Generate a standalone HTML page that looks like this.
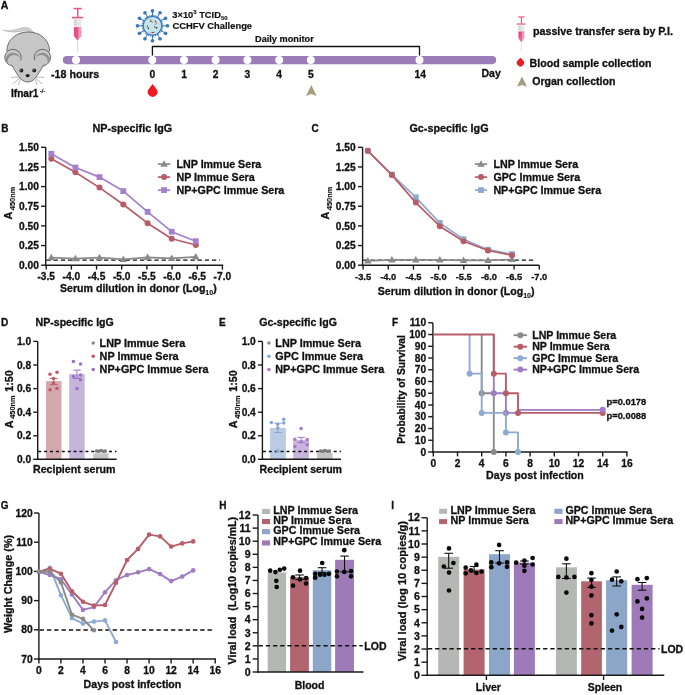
<!DOCTYPE html>
<html><head><meta charset="utf-8"><title>Figure</title>
<style>
html,body{margin:0;padding:0;background:#fff;}
body{width:685px;height:695px;overflow:hidden;}
svg{display:block;font-family:"Liberation Sans", sans-serif;will-change:transform;}
text{stroke:#111;stroke-width:0.3px;}
.s{stroke-width:0.12px;}
.t9{stroke-width:0.18px;}
</style></head>
<body>
<svg width="685" height="695" viewBox="0 0 685 695">
<rect width="685" height="695" fill="#ffffff"/>
<text x="0.8" y="8.5" font-size="10.5" text-anchor="start" fill="#111" font-weight="bold" >A</text>
<path d="M2.6,30.3 Q11,31.8 19,28.6 Q25,26.2 29.5,28.2 L34.5,32.8 L30.5,33.2 Q26.5,29.6 22,31.2 Q13,33.6 2.6,30.3 Z" fill="#d0d0d0" stroke="#a0a0a0" stroke-width="0.4"/>
<path d="M6.8,50 C7.5,39.5 16.5,32 28.2,32 C40,32 48.9,39.5 49.6,50 L44,66 L12,66 Z" fill="#c6c6c6" stroke="#4a4a4a" stroke-width="0.75"/>
<path d="M12.2,65.6 L21.4,59.2 L27.7,57 L34,59.2 L43.2,65.6 C40.4,70.5 37.4,76 33.9,79.6 Q27.7,84.6 21.5,79.6 C18,76 15,70.5 12.2,65.6 Z" fill="#c6c6c6"/>
<circle cx="12.95" cy="57.5" r="8.2" fill="#c6c6c6"/>
<circle cx="42.45" cy="57.5" r="8.2" fill="#c6c6c6"/>
<g fill="none" stroke="#4a4a4a" stroke-width="0.75">
<path d="M20.65,60.3 A8.2,8.2 0 1 0 12.24,65.67 C15,70.5 18,76 21.5,79.6 Q27.7,84.6 33.9,79.6 C37.4,76 40.4,70.5 43.16,65.67 A8.2,8.2 0 1 0 34.75,60.3"/>
</g>
<path d="M5.5,61.2 A7.5,7.5 0 1 1 20.4,59.3 A6.4,6.0 0 0 0 8.0,62.6 Z" fill="#8f8f8f"/>
<path d="M49.9,61.2 A7.5,7.5 0 1 0 35.0,59.3 A6.4,6.0 0 0 1 47.4,62.6 Z" fill="#8f8f8f"/>
<circle cx="21.4" cy="70.5" r="1.9" fill="#1a1a1a"/><circle cx="20.9" cy="70.1" r="0.6" fill="#ddd"/>
<circle cx="34.2" cy="70.4" r="1.9" fill="#1a1a1a"/><circle cx="33.7" cy="70.0" r="0.6" fill="#ddd"/>
<ellipse cx="27.7" cy="75.6" rx="2" ry="1.7" fill="#1a1a1a"/>
<g stroke="#7a7a7a" stroke-width="0.55" fill="none">
<path d="M19.5,77.6 Q15,76.5 11.2,77.6"/><path d="M19.8,78.6 Q16,80.5 13.2,84.2"/><path d="M20.6,79.4 Q18.8,81.8 18.3,85"/>
<path d="M35.9,77.6 Q40.4,76.5 44.2,77.6"/><path d="M35.6,78.6 Q39.4,80.5 42.2,84.2"/><path d="M34.8,79.4 Q36.6,81.8 37.1,85"/>
</g>
<text x="11" y="96.6" font-size="10.1" text-anchor="start" fill="#111" font-weight="bold" >Ifnar1</text>
<text x="40" y="93.2" font-size="5.6" text-anchor="start" fill="#111" font-weight="normal" >-/-</text>
<rect x="62.8" y="56" width="433.4" height="8.2" rx="4.1" fill="#9b7bb8"/>
<circle cx="76" cy="60.1" r="4" fill="#ffffff" />
<circle cx="152.3" cy="60.1" r="4" fill="#ffffff" />
<circle cx="184" cy="60.1" r="4" fill="#ffffff" />
<circle cx="215.6" cy="60.1" r="4" fill="#ffffff" />
<circle cx="247.4" cy="60.1" r="4" fill="#ffffff" />
<circle cx="279.2" cy="60.1" r="4" fill="#ffffff" />
<circle cx="310.8" cy="60.1" r="4" fill="#ffffff" />
<circle cx="419.5" cy="60.1" r="4" fill="#ffffff" />
<text x="51" y="77.7" font-size="10.7" text-anchor="start" fill="#111" font-weight="bold" >-18 hours</text>
<text x="152.3" y="77.7" font-size="10.3" text-anchor="middle" fill="#111" font-weight="bold" >0</text>
<text x="184" y="77.7" font-size="10.3" text-anchor="middle" fill="#111" font-weight="bold" >1</text>
<text x="215.6" y="77.7" font-size="10.3" text-anchor="middle" fill="#111" font-weight="bold" >2</text>
<text x="247.4" y="77.7" font-size="10.3" text-anchor="middle" fill="#111" font-weight="bold" >3</text>
<text x="279.2" y="77.7" font-size="10.3" text-anchor="middle" fill="#111" font-weight="bold" >4</text>
<text x="310.8" y="77.7" font-size="10.3" text-anchor="middle" fill="#111" font-weight="bold" >5</text>
<text x="420.2" y="77.7" font-size="10.3" text-anchor="middle" fill="#111" font-weight="bold" >14</text>
<text x="481.5" y="76.5" font-size="10.5" text-anchor="start" fill="#111" font-weight="bold" >Day</text>
<polyline points="152.4,55.5 152.4,46.5 419.5,46.5 419.5,55.5" fill="none" stroke="#111" stroke-width="1.3" stroke-linejoin="round" stroke-linejoin="miter"/>
<text x="255" y="41.9" font-size="9.2" text-anchor="start" fill="#111" font-weight="bold" class="t9">Daily monitor</text>
<line x1="161.5" y1="25.75" x2="167.5" y2="25.75" stroke="#3a78b9" stroke-width="1.0"/><circle cx="167.5" cy="25.75" r="1.85" fill="#3a78b9"/><line x1="160.29" y1="30.25" x2="165.49" y2="33.25" stroke="#3a78b9" stroke-width="1.0"/><circle cx="165.49" cy="33.25" r="1.85" fill="#3a78b9"/><line x1="157" y1="33.54" x2="160" y2="38.74" stroke="#3a78b9" stroke-width="1.0"/><circle cx="160" cy="38.74" r="1.85" fill="#3a78b9"/><line x1="152.5" y1="34.75" x2="152.5" y2="40.75" stroke="#3a78b9" stroke-width="1.0"/><circle cx="152.5" cy="40.75" r="1.85" fill="#3a78b9"/><line x1="148" y1="33.54" x2="145" y2="38.74" stroke="#3a78b9" stroke-width="1.0"/><circle cx="145" cy="38.74" r="1.85" fill="#3a78b9"/><line x1="144.71" y1="30.25" x2="139.51" y2="33.25" stroke="#3a78b9" stroke-width="1.0"/><circle cx="139.51" cy="33.25" r="1.85" fill="#3a78b9"/><line x1="143.5" y1="25.75" x2="137.5" y2="25.75" stroke="#3a78b9" stroke-width="1.0"/><circle cx="137.5" cy="25.75" r="1.85" fill="#3a78b9"/><line x1="144.71" y1="21.25" x2="139.51" y2="18.25" stroke="#3a78b9" stroke-width="1.0"/><circle cx="139.51" cy="18.25" r="1.85" fill="#3a78b9"/><line x1="148" y1="17.96" x2="145" y2="12.76" stroke="#3a78b9" stroke-width="1.0"/><circle cx="145" cy="12.76" r="1.85" fill="#3a78b9"/><line x1="152.5" y1="16.75" x2="152.5" y2="10.75" stroke="#3a78b9" stroke-width="1.0"/><circle cx="152.5" cy="10.75" r="1.85" fill="#3a78b9"/><line x1="157" y1="17.96" x2="160" y2="12.76" stroke="#3a78b9" stroke-width="1.0"/><circle cx="160" cy="12.76" r="1.85" fill="#3a78b9"/><line x1="160.29" y1="21.25" x2="165.49" y2="18.25" stroke="#3a78b9" stroke-width="1.0"/><circle cx="165.49" cy="18.25" r="1.85" fill="#3a78b9"/>
<circle cx="152.5" cy="25.75" r="10.3" fill="none" stroke="#3a78b9" stroke-width="1.3" stroke-dasharray="0.9 0.9"/>
<circle cx="152.5" cy="25.75" r="9.3" fill="#c3e7ee" stroke="#3a78b9" stroke-width="1.2"/>
<g fill="none" stroke="#e0484c" stroke-width="0.55">
<path d="M149,20 q1,-1.2 2.2,0 q0.8,1.5 1.8,3"/>
<path d="M154.5,20.5 q1.2,-0.5 1.3,1 q0,1.5 1.5,2 q-1.5,0.8 -2.8,0.8"/>
<path d="M145.8,26.4 q1,1.6 2.6,1.6 l1.5,0"/>
<path d="M154,27 q1.2,0.6 2.5,0.5 l1.5,0"/>
<path d="M149.5,32.6 l2.5,0 q1.5,0 3,-0.6"/>
</g>
<g fill="#151515"><circle cx="150.8" cy="21.4" r="0.6"/><circle cx="155.5" cy="21.8" r="0.55"/><circle cx="147.6" cy="26.1" r="0.6"/><circle cx="148.4" cy="28.6" r="0.6"/><circle cx="154.9" cy="26.8" r="0.6"/><circle cx="156.6" cy="28.2" r="0.6"/><circle cx="153.0" cy="32.4" r="0.55"/></g>
<text x="172.3" y="17.6" font-size="9.3" text-anchor="start" fill="#111" font-weight="bold" class="t9">3×10<tspan class="s" font-size="6" dy="-3.3">3</tspan><tspan dy="3.3"> TCID</tspan><tspan class="s" font-size="6" dy="2.7">50</tspan></text>
<text x="172.4" y="28.6" font-size="9.4" text-anchor="start" fill="#111" font-weight="bold" class="t9">CCHFV Challenge</text>
<rect x="73.5" y="7.8" width="8.2" height="1.5" fill="#e8548a" opacity="1"/><rect x="76.95" y="9" width="1.5" height="8" fill="#e8548a" opacity="1"/><rect x="71.9" y="16.8" width="11" height="1.7" fill="#e8548a" opacity="1"/><rect x="73.9" y="18.5" width="7.4" height="8.7" fill="#e8e8e8" opacity="1"/><rect x="73.9" y="27.1" width="7.4" height="9.1" fill="#e8548a" opacity="1"/><path d="M73.9,36.1 L81.3,36.1 L77.6,40.7 Z" fill="#e8548a"/><path d="M78.3,27.1 L81.3,27.1 L81.3,36.1 L77.6,40.7 L78.3,36.1 Z" fill="#ffffff" opacity="0.38"/><line x1="73.9" y1="20.3" x2="76.7" y2="20.3" stroke="#a0a0a0" stroke-width="0.5"/><line x1="73.9" y1="22.4" x2="76.7" y2="22.4" stroke="#a0a0a0" stroke-width="0.5"/><line x1="73.9" y1="24.4" x2="76.7" y2="24.4" stroke="#a0a0a0" stroke-width="0.5"/><line x1="73.9" y1="28.6" x2="76.7" y2="28.6" stroke="#c43a6e" stroke-width="0.5"/><line x1="73.9" y1="30.6" x2="76.7" y2="30.6" stroke="#c43a6e" stroke-width="0.5"/><line x1="77.7" y1="40.7" x2="77.7" y2="52" stroke="#bdbdbd" stroke-width="0.6"/>
<rect x="518.12" y="16.4" width="6.4" height="1.17" fill="#e8548a" opacity="1"/><rect x="520.81" y="17.34" width="1.17" height="6.24" fill="#e8548a" opacity="1"/><rect x="516.88" y="23.42" width="8.58" height="1.33" fill="#e8548a" opacity="1"/><rect x="518.44" y="24.75" width="5.77" height="6.79" fill="#e8e8e8" opacity="1"/><rect x="518.44" y="31.45" width="5.77" height="7.1" fill="#e8548a" opacity="1"/><path d="M518.44,38.47 L524.21,38.47 L521.32,42.06 Z" fill="#e8548a"/><path d="M521.87,31.45 L524.21,31.45 L524.21,38.47 L521.32,42.06 L521.87,38.47 Z" fill="#ffffff" opacity="0.38"/><line x1="518.44" y1="26.15" x2="520.62" y2="26.15" stroke="#a0a0a0" stroke-width="0.39"/><line x1="518.44" y1="27.79" x2="520.62" y2="27.79" stroke="#a0a0a0" stroke-width="0.39"/><line x1="518.44" y1="29.35" x2="520.62" y2="29.35" stroke="#a0a0a0" stroke-width="0.39"/><line x1="518.44" y1="32.62" x2="520.62" y2="32.62" stroke="#c43a6e" stroke-width="0.39"/><line x1="518.44" y1="34.18" x2="520.62" y2="34.18" stroke="#c43a6e" stroke-width="0.39"/><line x1="521.4" y1="42.06" x2="521.4" y2="50.88" stroke="#bdbdbd" stroke-width="0.47"/>
<path d="M152.6,83.9 Q154.77,86.46 156.47,89.03 A4.85,4.85 0 1 1 148.73,89.03 Q150.43,86.46 152.6,83.9 Z" fill="#ec1c24"/>
<path d="M311.3,84.9 L316.6,96 L311.3,94 L306,96 Z" fill="#a39e7f"/>
<text x="533" y="35" font-size="10.7" text-anchor="start" fill="#111" font-weight="bold" >passive transfer sera by P.I.</text>
<path d="M520.4,57.8 Q521.8,59 522.9,60.21 A3.6,3.6 0 1 1 517.9,60.21 Q519,59 520.4,57.8 Z" fill="#ec1c24"/>
<text x="529.6" y="67.1" font-size="10.6" text-anchor="start" fill="#111" font-weight="bold" >Blood sample collection</text>
<path d="M522,76.6 L527,86.8 L522,84.96 L517,86.8 Z" fill="#a39e7f"/>
<text x="532.2" y="85" font-size="10.55" text-anchor="start" fill="#111" font-weight="bold" >Organ collection</text>
<text x="1.2" y="131.9" font-size="10.0" text-anchor="start" fill="#111" font-weight="bold" >B</text>
<line x1="45.7" y1="147.3" x2="45.7" y2="265.9" stroke="#1a1a1a" stroke-width="1.4" />
<line x1="41.1" y1="147.3" x2="45.7" y2="147.3" stroke="#1a1a1a" stroke-width="1.4" />
<text x="38.8" y="150.95" font-size="10.2" text-anchor="end" fill="#111" font-weight="bold" >1.50</text>
<line x1="41.1" y1="166.95" x2="45.7" y2="166.95" stroke="#1a1a1a" stroke-width="1.4" />
<text x="38.8" y="170.6" font-size="10.2" text-anchor="end" fill="#111" font-weight="bold" >1.25</text>
<line x1="41.1" y1="186.6" x2="45.7" y2="186.6" stroke="#1a1a1a" stroke-width="1.4" />
<text x="38.8" y="190.25" font-size="10.2" text-anchor="end" fill="#111" font-weight="bold" >1.00</text>
<line x1="41.1" y1="206.25" x2="45.7" y2="206.25" stroke="#1a1a1a" stroke-width="1.4" />
<text x="38.8" y="209.9" font-size="10.2" text-anchor="end" fill="#111" font-weight="bold" >0.75</text>
<line x1="41.1" y1="225.9" x2="45.7" y2="225.9" stroke="#1a1a1a" stroke-width="1.4" />
<text x="38.8" y="229.55" font-size="10.2" text-anchor="end" fill="#111" font-weight="bold" >0.50</text>
<line x1="41.1" y1="245.55" x2="45.7" y2="245.55" stroke="#1a1a1a" stroke-width="1.4" />
<text x="38.8" y="249.2" font-size="10.2" text-anchor="end" fill="#111" font-weight="bold" >0.25</text>
<line x1="41.1" y1="265.2" x2="45.7" y2="265.2" stroke="#1a1a1a" stroke-width="1.4" />
<text x="38.8" y="268.85" font-size="10.2" text-anchor="end" fill="#111" font-weight="bold" >0.00</text>
<line x1="45" y1="265.2" x2="223.2" y2="265.2" stroke="#1a1a1a" stroke-width="1.4" />
<line x1="46.2" y1="265.2" x2="46.2" y2="269.6" stroke="#1a1a1a" stroke-width="1.4" />
<text x="46.2" y="280.4" font-size="10.2" text-anchor="middle" fill="#111" font-weight="bold" >-3.5</text>
<line x1="71.37" y1="265.2" x2="71.37" y2="269.6" stroke="#1a1a1a" stroke-width="1.4" />
<text x="71.37" y="280.4" font-size="10.2" text-anchor="middle" fill="#111" font-weight="bold" >-4.0</text>
<line x1="96.54" y1="265.2" x2="96.54" y2="269.6" stroke="#1a1a1a" stroke-width="1.4" />
<text x="96.54" y="280.4" font-size="10.2" text-anchor="middle" fill="#111" font-weight="bold" >-4.5</text>
<line x1="121.71" y1="265.2" x2="121.71" y2="269.6" stroke="#1a1a1a" stroke-width="1.4" />
<text x="121.71" y="280.4" font-size="10.2" text-anchor="middle" fill="#111" font-weight="bold" >-5.0</text>
<line x1="146.88" y1="265.2" x2="146.88" y2="269.6" stroke="#1a1a1a" stroke-width="1.4" />
<text x="146.88" y="280.4" font-size="10.2" text-anchor="middle" fill="#111" font-weight="bold" >-5.5</text>
<line x1="172.05" y1="265.2" x2="172.05" y2="269.6" stroke="#1a1a1a" stroke-width="1.4" />
<text x="172.05" y="280.4" font-size="10.2" text-anchor="middle" fill="#111" font-weight="bold" >-6.0</text>
<line x1="197.22" y1="265.2" x2="197.22" y2="269.6" stroke="#1a1a1a" stroke-width="1.4" />
<text x="197.22" y="280.4" font-size="10.2" text-anchor="middle" fill="#111" font-weight="bold" >-6.5</text>
<line x1="222.39" y1="265.2" x2="222.39" y2="269.6" stroke="#1a1a1a" stroke-width="1.4" />
<text x="222.39" y="280.4" font-size="10.2" text-anchor="middle" fill="#111" font-weight="bold" >-7.0</text>
<text x="92.4" y="132.3" font-size="10.8" text-anchor="start" fill="#111" font-weight="bold" >NP-specific IgG</text>
<text transform="translate(12.4,219.6) rotate(-90)" font-size="10.9" font-weight="bold" fill="#111">A<tspan class="s" font-size="7.4" dy="2.2" dx="1.6">450nm</tspan></text>
<text x="60" y="292.4" font-size="10.6" text-anchor="start" fill="#111" font-weight="bold" >Serum dilution in donor (Log<tspan class="s" font-size="7" dy="2.6">10</tspan><tspan dy="-2.6">)</tspan></text>
<line x1="46.4" y1="260.2" x2="220" y2="260.2" stroke="#111" stroke-width="1.3" stroke-dasharray="4.3 2.9"/>
<polyline points="51.3,257.6 75.4,258.6 99.5,257.6 123.3,259.3 147.6,257.4 171.7,258.3 195.8,256.8" fill="none" stroke="#8a8a8a" stroke-width="1.7" stroke-linejoin="round" />
<path d="M51.3,253.76 L55.02,260.2 L47.58,260.2 Z" fill="#8a8a8a"/>
<path d="M75.4,254.76 L79.12,261.2 L71.68,261.2 Z" fill="#8a8a8a"/>
<path d="M99.5,253.76 L103.22,260.2 L95.78,260.2 Z" fill="#8a8a8a"/>
<path d="M123.3,255.46 L127.02,261.9 L119.58,261.9 Z" fill="#8a8a8a"/>
<path d="M147.6,253.56 L151.32,260 L143.88,260 Z" fill="#8a8a8a"/>
<path d="M171.7,254.46 L175.42,260.9 L167.98,260.9 Z" fill="#8a8a8a"/>
<path d="M195.8,252.96 L199.52,259.4 L192.08,259.4 Z" fill="#8a8a8a"/>
<polyline points="51.3,158.7 75.4,172.2 99.5,187.6 123.3,204.5 147.6,223.2 171.7,238.8 195.8,245" fill="none" stroke="#b85d68" stroke-width="1.7" stroke-linejoin="round" />
<circle cx="51.3" cy="158.7" r="3" fill="#b85d68" />
<circle cx="75.4" cy="172.2" r="3" fill="#b85d68" />
<circle cx="99.5" cy="187.6" r="3" fill="#b85d68" />
<circle cx="123.3" cy="204.5" r="3" fill="#b85d68" />
<circle cx="147.6" cy="223.2" r="3" fill="#b85d68" />
<circle cx="171.7" cy="238.8" r="3" fill="#b85d68" />
<circle cx="195.8" cy="245" r="3" fill="#b85d68" />
<polyline points="51.3,153.8 75.4,167.5 99.5,177.1 123.3,191.1 147.6,211.9 171.7,231.7 195.8,241.2" fill="none" stroke="#a57fcc" stroke-width="1.7" stroke-linejoin="round" />
<rect x="48.4" y="150.9" width="5.8" height="5.8" fill="#a57fcc" />
<rect x="72.5" y="164.6" width="5.8" height="5.8" fill="#a57fcc" />
<rect x="96.6" y="174.2" width="5.8" height="5.8" fill="#a57fcc" />
<rect x="120.4" y="188.2" width="5.8" height="5.8" fill="#a57fcc" />
<rect x="144.7" y="209" width="5.8" height="5.8" fill="#a57fcc" />
<rect x="168.8" y="228.8" width="5.8" height="5.8" fill="#a57fcc" />
<rect x="192.9" y="238.3" width="5.8" height="5.8" fill="#a57fcc" />
<line x1="157.9" y1="164.1" x2="170.2" y2="164.1" stroke="#8a8a8a" stroke-width="1.7" />
<path d="M164.1,160.26 L167.82,166.7 L160.38,166.7 Z" fill="#8a8a8a"/>
<text x="176.5" y="167.9" font-size="10.7" text-anchor="start" fill="#111" font-weight="bold" >LNP Immue Sera</text>
<line x1="157.9" y1="177.1" x2="170.2" y2="177.1" stroke="#b85d68" stroke-width="1.7" />
<circle cx="164.1" cy="177.1" r="3" fill="#b85d68" />
<text x="176.5" y="180.9" font-size="10.7" text-anchor="start" fill="#111" font-weight="bold" >NP Immue Sera</text>
<line x1="157.9" y1="190.1" x2="170.2" y2="190.1" stroke="#a57fcc" stroke-width="1.7" />
<rect x="161.2" y="187.2" width="5.8" height="5.8" fill="#a57fcc" />
<text x="176.5" y="193.9" font-size="10.7" text-anchor="start" fill="#111" font-weight="bold" >NP+GPC Immue Sera</text>
<text x="311.5" y="132.3" font-size="10.0" text-anchor="start" fill="#111" font-weight="bold" >C</text>
<g>
<line x1="362.6" y1="147.3" x2="362.6" y2="265.9" stroke="#1a1a1a" stroke-width="1.4" />
<line x1="358" y1="147.3" x2="362.6" y2="147.3" stroke="#1a1a1a" stroke-width="1.4" />
<text x="355.7" y="150.95" font-size="10.2" text-anchor="end" fill="#111" font-weight="bold" >1.50</text>
<line x1="358" y1="166.95" x2="362.6" y2="166.95" stroke="#1a1a1a" stroke-width="1.4" />
<text x="355.7" y="170.6" font-size="10.2" text-anchor="end" fill="#111" font-weight="bold" >1.25</text>
<line x1="358" y1="186.6" x2="362.6" y2="186.6" stroke="#1a1a1a" stroke-width="1.4" />
<text x="355.7" y="190.25" font-size="10.2" text-anchor="end" fill="#111" font-weight="bold" >1.00</text>
<line x1="358" y1="206.25" x2="362.6" y2="206.25" stroke="#1a1a1a" stroke-width="1.4" />
<text x="355.7" y="209.9" font-size="10.2" text-anchor="end" fill="#111" font-weight="bold" >0.75</text>
<line x1="358" y1="225.9" x2="362.6" y2="225.9" stroke="#1a1a1a" stroke-width="1.4" />
<text x="355.7" y="229.55" font-size="10.2" text-anchor="end" fill="#111" font-weight="bold" >0.50</text>
<line x1="358" y1="245.55" x2="362.6" y2="245.55" stroke="#1a1a1a" stroke-width="1.4" />
<text x="355.7" y="249.2" font-size="10.2" text-anchor="end" fill="#111" font-weight="bold" >0.25</text>
<line x1="358" y1="265.2" x2="362.6" y2="265.2" stroke="#1a1a1a" stroke-width="1.4" />
<text x="355.7" y="268.85" font-size="10.2" text-anchor="end" fill="#111" font-weight="bold" >0.00</text>
<line x1="361.9" y1="265.2" x2="539.2" y2="265.2" stroke="#1a1a1a" stroke-width="1.4" />
<line x1="363.1" y1="265.2" x2="363.1" y2="269.6" stroke="#1a1a1a" stroke-width="1.4" />
<text x="363.1" y="280.4" font-size="9.3" text-anchor="middle" fill="#111" font-weight="bold" >-3.5</text>
<line x1="388.27" y1="265.2" x2="388.27" y2="269.6" stroke="#1a1a1a" stroke-width="1.4" />
<text x="388.27" y="280.4" font-size="9.3" text-anchor="middle" fill="#111" font-weight="bold" >-4.0</text>
<line x1="413.44" y1="265.2" x2="413.44" y2="269.6" stroke="#1a1a1a" stroke-width="1.4" />
<text x="413.44" y="280.4" font-size="9.3" text-anchor="middle" fill="#111" font-weight="bold" >-4.5</text>
<line x1="438.61" y1="265.2" x2="438.61" y2="269.6" stroke="#1a1a1a" stroke-width="1.4" />
<text x="438.61" y="280.4" font-size="9.3" text-anchor="middle" fill="#111" font-weight="bold" >-5.0</text>
<line x1="463.78" y1="265.2" x2="463.78" y2="269.6" stroke="#1a1a1a" stroke-width="1.4" />
<text x="463.78" y="280.4" font-size="9.3" text-anchor="middle" fill="#111" font-weight="bold" >-5.5</text>
<line x1="488.95" y1="265.2" x2="488.95" y2="269.6" stroke="#1a1a1a" stroke-width="1.4" />
<text x="488.95" y="280.4" font-size="9.3" text-anchor="middle" fill="#111" font-weight="bold" >-6.0</text>
<line x1="514.12" y1="265.2" x2="514.12" y2="269.6" stroke="#1a1a1a" stroke-width="1.4" />
<text x="514.12" y="280.4" font-size="9.3" text-anchor="middle" fill="#111" font-weight="bold" >-6.5</text>
<line x1="539.29" y1="265.2" x2="539.29" y2="269.6" stroke="#1a1a1a" stroke-width="1.4" />
<text x="539.29" y="280.4" font-size="9.3" text-anchor="middle" fill="#111" font-weight="bold" >-7.0</text>
<text x="409.4" y="132.3" font-size="10.8" text-anchor="start" fill="#111" font-weight="bold" >Gc-specific IgG</text>
<text transform="translate(329.3,219.6) rotate(-90)" font-size="10.9" font-weight="bold" fill="#111">A<tspan class="s" font-size="7.4" dy="2.2" dx="1.6">450nm</tspan></text>
<text x="377.8" y="295.2" font-size="10.6" text-anchor="start" fill="#111" font-weight="bold" >Serum dilution in donor (Log<tspan class="s" font-size="7" dy="2.6">10</tspan><tspan dy="-2.6">)</tspan></text>
<line x1="363.3" y1="260.2" x2="535.5" y2="260.2" stroke="#111" stroke-width="1.3" stroke-dasharray="4.3 2.9"/>
<polyline points="367.8,260.8 391.9,259.8 415.8,259.8 439.8,259.8 463.5,260.3 488,260.3 512,259.5" fill="none" stroke="#8a8a8a" stroke-width="1.7" stroke-linejoin="round" />
<path d="M367.8,256.96 L371.52,263.4 L364.08,263.4 Z" fill="#8a8a8a"/>
<path d="M391.9,255.96 L395.62,262.4 L388.18,262.4 Z" fill="#8a8a8a"/>
<path d="M415.8,255.96 L419.52,262.4 L412.08,262.4 Z" fill="#8a8a8a"/>
<path d="M439.8,255.96 L443.52,262.4 L436.08,262.4 Z" fill="#8a8a8a"/>
<path d="M463.5,256.46 L467.22,262.9 L459.78,262.9 Z" fill="#8a8a8a"/>
<path d="M488,256.46 L491.72,262.9 L484.28,262.9 Z" fill="#8a8a8a"/>
<path d="M512,255.66 L515.72,262.1 L508.28,262.1 Z" fill="#8a8a8a"/>
<polyline points="367.8,150.8 391.9,174.5 415.8,197.3 439.8,222.9 463.5,239.2 488,249.7 512,254.2" fill="none" stroke="#8eaad2" stroke-width="1.7" stroke-linejoin="round" />
<rect x="364.9" y="147.9" width="5.8" height="5.8" fill="#8eaad2" />
<rect x="389" y="171.6" width="5.8" height="5.8" fill="#8eaad2" />
<rect x="412.9" y="194.4" width="5.8" height="5.8" fill="#8eaad2" />
<rect x="436.9" y="220" width="5.8" height="5.8" fill="#8eaad2" />
<rect x="460.6" y="236.3" width="5.8" height="5.8" fill="#8eaad2" />
<rect x="485.1" y="246.8" width="5.8" height="5.8" fill="#8eaad2" />
<rect x="509.1" y="251.3" width="5.8" height="5.8" fill="#8eaad2" />
<polyline points="367.8,150.8 391.9,175.1 415.8,202.6 439.8,226.2 463.5,241.3 488,250.5 512,255.2" fill="none" stroke="#b85d68" stroke-width="1.7" stroke-linejoin="round" />
<circle cx="367.8" cy="150.8" r="3" fill="#b85d68" />
<circle cx="391.9" cy="175.1" r="3" fill="#b85d68" />
<circle cx="415.8" cy="202.6" r="3" fill="#b85d68" />
<circle cx="439.8" cy="226.2" r="3" fill="#b85d68" />
<circle cx="463.5" cy="241.3" r="3" fill="#b85d68" />
<circle cx="488" cy="250.5" r="3" fill="#b85d68" />
<circle cx="512" cy="255.2" r="3" fill="#b85d68" />
<line x1="474.8" y1="164.1" x2="487.1" y2="164.1" stroke="#8a8a8a" stroke-width="1.7" />
<path d="M481,160.26 L484.72,166.7 L477.28,166.7 Z" fill="#8a8a8a"/>
<text x="493.4" y="167.9" font-size="10.7" text-anchor="start" fill="#111" font-weight="bold" >LNP Immue Sera</text>
<line x1="474.8" y1="177.1" x2="487.1" y2="177.1" stroke="#b85d68" stroke-width="1.7" />
<circle cx="481" cy="177.1" r="3" fill="#b85d68" />
<text x="493.4" y="180.9" font-size="10.7" text-anchor="start" fill="#111" font-weight="bold" >GPC Immue Sera</text>
<line x1="474.8" y1="190.1" x2="487.1" y2="190.1" stroke="#8eaad2" stroke-width="1.7" />
<rect x="478.1" y="187.2" width="5.8" height="5.8" fill="#8eaad2" />
<text x="493.4" y="193.9" font-size="10.7" text-anchor="start" fill="#111" font-weight="bold" >NP+GPC Immue Sera</text>
</g>
<text x="1" y="326.4" font-size="10.0" text-anchor="start" fill="#111" font-weight="bold" >D</text>
<rect x="46" y="381.1" width="15.5" height="78.2" fill="#d4a9ad" />
<rect x="69.2" y="374.1" width="15.5" height="85.2" fill="#c6b5da" />
<rect x="93.2" y="453.3" width="15.3" height="6" fill="#c4c4c4" />
<line x1="38.2" y1="451.5" x2="116.5" y2="451.5" stroke="#111" stroke-width="1.3" stroke-dasharray="3.0 2.9"/>
<line x1="53.75" y1="378.4" x2="53.75" y2="384.6" stroke="#bf5a66" stroke-width="1.0" />
<line x1="49.95" y1="378.4" x2="57.55" y2="378.4" stroke="#bf5a66" stroke-width="1.0" />
<line x1="49.95" y1="384.6" x2="57.55" y2="384.6" stroke="#bf5a66" stroke-width="1.0" />
<circle cx="50" cy="374.3" r="1.75" fill="#bf5a66" />
<circle cx="57" cy="372.3" r="1.75" fill="#bf5a66" />
<circle cx="53.5" cy="378.5" r="1.75" fill="#bf5a66" />
<circle cx="53.5" cy="383.1" r="1.75" fill="#bf5a66" />
<circle cx="50" cy="389.7" r="1.75" fill="#bf5a66" />
<circle cx="57" cy="388.4" r="1.75" fill="#bf5a66" />
<line x1="76.95" y1="370.1" x2="76.95" y2="378.4" stroke="#9c70c6" stroke-width="1.0" />
<line x1="73.15" y1="370.1" x2="80.75" y2="370.1" stroke="#9c70c6" stroke-width="1.0" />
<line x1="73.15" y1="378.4" x2="80.75" y2="378.4" stroke="#9c70c6" stroke-width="1.0" />
<circle cx="73.4" cy="361.6" r="1.75" fill="#9c70c6" />
<circle cx="80.5" cy="364" r="1.75" fill="#9c70c6" />
<circle cx="73.4" cy="376.5" r="1.75" fill="#9c70c6" />
<circle cx="80.5" cy="374.9" r="1.75" fill="#9c70c6" />
<circle cx="80.5" cy="379.7" r="1.75" fill="#9c70c6" />
<circle cx="77" cy="388.4" r="1.75" fill="#9c70c6" />
<circle cx="96.5" cy="451" r="1.75" fill="#7a7a7a" />
<circle cx="100.9" cy="450.6" r="1.75" fill="#7a7a7a" />
<circle cx="105.3" cy="451" r="1.75" fill="#7a7a7a" />
<circle cx="98.7" cy="451.2" r="1.75" fill="#7a7a7a" />
<circle cx="103.1" cy="451.2" r="1.75" fill="#7a7a7a" />
<line x1="37.7" y1="341.4" x2="37.7" y2="460" stroke="#1a1a1a" stroke-width="1.4" />
<line x1="33.3" y1="341.4" x2="37.7" y2="341.4" stroke="#1a1a1a" stroke-width="1.4" />
<text x="31.1" y="345.05" font-size="10.2" text-anchor="end" fill="#111" font-weight="bold" >1.0</text>
<line x1="33.3" y1="365" x2="37.7" y2="365" stroke="#1a1a1a" stroke-width="1.4" />
<text x="31.1" y="368.65" font-size="10.2" text-anchor="end" fill="#111" font-weight="bold" >0.8</text>
<line x1="33.3" y1="388.6" x2="37.7" y2="388.6" stroke="#1a1a1a" stroke-width="1.4" />
<text x="31.1" y="392.25" font-size="10.2" text-anchor="end" fill="#111" font-weight="bold" >0.6</text>
<line x1="33.3" y1="412.2" x2="37.7" y2="412.2" stroke="#1a1a1a" stroke-width="1.4" />
<text x="31.1" y="415.85" font-size="10.2" text-anchor="end" fill="#111" font-weight="bold" >0.4</text>
<line x1="33.3" y1="435.75" x2="37.7" y2="435.75" stroke="#1a1a1a" stroke-width="1.4" />
<text x="31.1" y="439.4" font-size="10.2" text-anchor="end" fill="#111" font-weight="bold" >0.2</text>
<line x1="33.3" y1="459.3" x2="37.7" y2="459.3" stroke="#1a1a1a" stroke-width="1.4" />
<text x="31.1" y="462.95" font-size="10.2" text-anchor="end" fill="#111" font-weight="bold" >0.0</text>
<line x1="37" y1="459.3" x2="116.7" y2="459.3" stroke="#1a1a1a" stroke-width="1.4" />
<text x="35.5" y="326.4" font-size="10.6" text-anchor="start" fill="#111" font-weight="bold" >NP-specific IgG</text>
<text x="33" y="472.6" font-size="10.6" text-anchor="start" fill="#111" font-weight="bold" >Recipient serum</text>
<text transform="translate(12.6,428.2) rotate(-90)" font-size="10.7" font-weight="bold" fill="#111">A<tspan class="s" font-size="7.4" dy="2.2" dx="1.7">450nm</tspan><tspan dy="-2.2" dx="3.6">1:50</tspan></text>
<circle cx="93.2" cy="342.9" r="1.75" fill="#8a8a8a" />
<text x="99.6" y="346.7" font-size="10.8" text-anchor="start" fill="#111" font-weight="bold" >LNP Immue Sera</text>
<circle cx="93.2" cy="356.2" r="1.75" fill="#bf5a66" />
<text x="99.6" y="360" font-size="10.8" text-anchor="start" fill="#111" font-weight="bold" >NP Immue Sera</text>
<circle cx="93.2" cy="369.5" r="1.75" fill="#9c70c6" />
<text x="99.6" y="373.3" font-size="10.8" text-anchor="start" fill="#111" font-weight="bold" >NP+GPC Immue Sera</text>
<text x="219" y="326.4" font-size="10.0" text-anchor="start" fill="#111" font-weight="bold" >E</text>
<rect x="269.9" y="427.9" width="16" height="31.4" fill="#b9cce4" />
<rect x="293.2" y="440" width="15.7" height="19.3" fill="#c9b4dd" />
<rect x="317.1" y="452.6" width="15.5" height="6.7" fill="#c4c4c4" />
<line x1="262.9" y1="451.5" x2="341" y2="451.5" stroke="#111" stroke-width="1.3" stroke-dasharray="3.0 2.9"/>
<line x1="277.9" y1="423.2" x2="277.9" y2="432.5" stroke="#86a5d0" stroke-width="1.0" />
<line x1="274.1" y1="423.2" x2="281.7" y2="423.2" stroke="#86a5d0" stroke-width="1.0" />
<line x1="274.1" y1="432.5" x2="281.7" y2="432.5" stroke="#86a5d0" stroke-width="1.0" />
<circle cx="271.3" cy="422.4" r="1.75" fill="#86a5d0" />
<circle cx="277.7" cy="424.3" r="1.75" fill="#86a5d0" />
<circle cx="283.7" cy="419.2" r="1.75" fill="#86a5d0" />
<circle cx="283.7" cy="422.9" r="1.75" fill="#86a5d0" />
<circle cx="277.7" cy="427.9" r="1.75" fill="#86a5d0" />
<circle cx="277.7" cy="451.1" r="1.75" fill="#86a5d0" />
<line x1="301.05" y1="437.4" x2="301.05" y2="442.5" stroke="#a47ac8" stroke-width="1.0" />
<line x1="297.25" y1="437.4" x2="304.85" y2="437.4" stroke="#a47ac8" stroke-width="1.0" />
<line x1="297.25" y1="442.5" x2="304.85" y2="442.5" stroke="#a47ac8" stroke-width="1.0" />
<circle cx="301.1" cy="428.4" r="1.75" fill="#a47ac8" />
<circle cx="294.8" cy="439.3" r="1.75" fill="#a47ac8" />
<circle cx="301.1" cy="442" r="1.75" fill="#a47ac8" />
<circle cx="307.2" cy="439.6" r="1.75" fill="#a47ac8" />
<circle cx="294.8" cy="446.5" r="1.75" fill="#a47ac8" />
<circle cx="307.2" cy="444.8" r="1.75" fill="#a47ac8" />
<circle cx="320.5" cy="451" r="1.75" fill="#7a7a7a" />
<circle cx="324.9" cy="450.6" r="1.75" fill="#7a7a7a" />
<circle cx="329.3" cy="451" r="1.75" fill="#7a7a7a" />
<circle cx="322.7" cy="451.2" r="1.75" fill="#7a7a7a" />
<circle cx="327.1" cy="451.2" r="1.75" fill="#7a7a7a" />
<line x1="262.4" y1="341.4" x2="262.4" y2="460" stroke="#1a1a1a" stroke-width="1.4" />
<line x1="258" y1="341.4" x2="262.4" y2="341.4" stroke="#1a1a1a" stroke-width="1.4" />
<text x="255.8" y="345.05" font-size="10.2" text-anchor="end" fill="#111" font-weight="bold" >1.0</text>
<line x1="258" y1="365" x2="262.4" y2="365" stroke="#1a1a1a" stroke-width="1.4" />
<text x="255.8" y="368.65" font-size="10.2" text-anchor="end" fill="#111" font-weight="bold" >0.8</text>
<line x1="258" y1="388.6" x2="262.4" y2="388.6" stroke="#1a1a1a" stroke-width="1.4" />
<text x="255.8" y="392.25" font-size="10.2" text-anchor="end" fill="#111" font-weight="bold" >0.6</text>
<line x1="258" y1="412.2" x2="262.4" y2="412.2" stroke="#1a1a1a" stroke-width="1.4" />
<text x="255.8" y="415.85" font-size="10.2" text-anchor="end" fill="#111" font-weight="bold" >0.4</text>
<line x1="258" y1="435.75" x2="262.4" y2="435.75" stroke="#1a1a1a" stroke-width="1.4" />
<text x="255.8" y="439.4" font-size="10.2" text-anchor="end" fill="#111" font-weight="bold" >0.2</text>
<line x1="258" y1="459.3" x2="262.4" y2="459.3" stroke="#1a1a1a" stroke-width="1.4" />
<text x="255.8" y="462.95" font-size="10.2" text-anchor="end" fill="#111" font-weight="bold" >0.0</text>
<line x1="261.7" y1="459.3" x2="341" y2="459.3" stroke="#1a1a1a" stroke-width="1.4" />
<text x="259.2" y="326.4" font-size="10.6" text-anchor="start" fill="#111" font-weight="bold" >Gc-specific IgG</text>
<text x="259.6" y="472.6" font-size="10.6" text-anchor="start" fill="#111" font-weight="bold" >Recipient serum</text>
<text transform="translate(237.3,428.2) rotate(-90)" font-size="10.7" font-weight="bold" fill="#111">A<tspan class="s" font-size="7.4" dy="2.2" dx="1.7">450nm</tspan><tspan dy="-2.2" dx="3.6">1:50</tspan></text>
<circle cx="268.9" cy="342.9" r="1.75" fill="#8a8a8a" />
<text x="275.3" y="346.7" font-size="10.8" text-anchor="start" fill="#111" font-weight="bold" >LNP Immue Sera</text>
<circle cx="268.9" cy="356.2" r="1.75" fill="#86a5d0" />
<text x="275.3" y="360" font-size="10.8" text-anchor="start" fill="#111" font-weight="bold" >GPC Immue Sera</text>
<circle cx="268.9" cy="369.5" r="1.75" fill="#a47ac8" />
<text x="275.3" y="373.3" font-size="10.8" text-anchor="start" fill="#111" font-weight="bold" >NP+GPC Immue Sera</text>
<text x="392" y="325.9" font-size="10.0" text-anchor="start" fill="#111" font-weight="bold" >F</text>
<line x1="432.9" y1="322.8" x2="432.9" y2="452.7" stroke="#1a1a1a" stroke-width="1.4" />
<line x1="428.2" y1="322.8" x2="432.9" y2="322.8" stroke="#1a1a1a" stroke-width="1.4" />
<text x="426.2" y="326.4" font-size="10.2" text-anchor="end" fill="#111" font-weight="bold" >110</text>
<line x1="428.2" y1="334.55" x2="432.9" y2="334.55" stroke="#1a1a1a" stroke-width="1.4" />
<text x="426.2" y="338.15" font-size="10.2" text-anchor="end" fill="#111" font-weight="bold" >100</text>
<line x1="428.2" y1="346.29" x2="432.9" y2="346.29" stroke="#1a1a1a" stroke-width="1.4" />
<text x="426.2" y="349.89" font-size="10.2" text-anchor="end" fill="#111" font-weight="bold" >90</text>
<line x1="428.2" y1="358.04" x2="432.9" y2="358.04" stroke="#1a1a1a" stroke-width="1.4" />
<text x="426.2" y="361.64" font-size="10.2" text-anchor="end" fill="#111" font-weight="bold" >80</text>
<line x1="428.2" y1="369.78" x2="432.9" y2="369.78" stroke="#1a1a1a" stroke-width="1.4" />
<text x="426.2" y="373.38" font-size="10.2" text-anchor="end" fill="#111" font-weight="bold" >70</text>
<line x1="428.2" y1="381.53" x2="432.9" y2="381.53" stroke="#1a1a1a" stroke-width="1.4" />
<text x="426.2" y="385.13" font-size="10.2" text-anchor="end" fill="#111" font-weight="bold" >60</text>
<line x1="428.2" y1="393.27" x2="432.9" y2="393.27" stroke="#1a1a1a" stroke-width="1.4" />
<text x="426.2" y="396.88" font-size="10.2" text-anchor="end" fill="#111" font-weight="bold" >50</text>
<line x1="428.2" y1="405.02" x2="432.9" y2="405.02" stroke="#1a1a1a" stroke-width="1.4" />
<text x="426.2" y="408.62" font-size="10.2" text-anchor="end" fill="#111" font-weight="bold" >40</text>
<line x1="428.2" y1="416.76" x2="432.9" y2="416.76" stroke="#1a1a1a" stroke-width="1.4" />
<text x="426.2" y="420.37" font-size="10.2" text-anchor="end" fill="#111" font-weight="bold" >30</text>
<line x1="428.2" y1="428.51" x2="432.9" y2="428.51" stroke="#1a1a1a" stroke-width="1.4" />
<text x="426.2" y="432.11" font-size="10.2" text-anchor="end" fill="#111" font-weight="bold" >20</text>
<line x1="428.2" y1="440.25" x2="432.9" y2="440.25" stroke="#1a1a1a" stroke-width="1.4" />
<text x="426.2" y="443.86" font-size="10.2" text-anchor="end" fill="#111" font-weight="bold" >10</text>
<line x1="428.2" y1="452" x2="432.9" y2="452" stroke="#1a1a1a" stroke-width="1.4" />
<text x="426.2" y="455.6" font-size="10.2" text-anchor="end" fill="#111" font-weight="bold" >0</text>
<line x1="432.2" y1="452" x2="627.6" y2="452" stroke="#1a1a1a" stroke-width="1.4" />
<line x1="433.3" y1="452" x2="433.3" y2="456.4" stroke="#1a1a1a" stroke-width="1.4" />
<text x="433.3" y="467.1" font-size="10.2" text-anchor="middle" fill="#111" font-weight="bold" >0</text>
<line x1="457.5" y1="452" x2="457.5" y2="456.4" stroke="#1a1a1a" stroke-width="1.4" />
<text x="457.5" y="467.1" font-size="10.2" text-anchor="middle" fill="#111" font-weight="bold" >2</text>
<line x1="481.7" y1="452" x2="481.7" y2="456.4" stroke="#1a1a1a" stroke-width="1.4" />
<text x="481.7" y="467.1" font-size="10.2" text-anchor="middle" fill="#111" font-weight="bold" >4</text>
<line x1="505.9" y1="452" x2="505.9" y2="456.4" stroke="#1a1a1a" stroke-width="1.4" />
<text x="505.9" y="467.1" font-size="10.2" text-anchor="middle" fill="#111" font-weight="bold" >6</text>
<line x1="530.1" y1="452" x2="530.1" y2="456.4" stroke="#1a1a1a" stroke-width="1.4" />
<text x="530.1" y="467.1" font-size="10.2" text-anchor="middle" fill="#111" font-weight="bold" >8</text>
<line x1="554.3" y1="452" x2="554.3" y2="456.4" stroke="#1a1a1a" stroke-width="1.4" />
<text x="554.3" y="467.1" font-size="10.2" text-anchor="middle" fill="#111" font-weight="bold" >10</text>
<line x1="578.5" y1="452" x2="578.5" y2="456.4" stroke="#1a1a1a" stroke-width="1.4" />
<text x="578.5" y="467.1" font-size="10.2" text-anchor="middle" fill="#111" font-weight="bold" >12</text>
<line x1="602.7" y1="452" x2="602.7" y2="456.4" stroke="#1a1a1a" stroke-width="1.4" />
<text x="602.7" y="467.1" font-size="10.2" text-anchor="middle" fill="#111" font-weight="bold" >14</text>
<line x1="626.9" y1="452" x2="626.9" y2="456.4" stroke="#1a1a1a" stroke-width="1.4" />
<text x="626.9" y="467.1" font-size="10.2" text-anchor="middle" fill="#111" font-weight="bold" >16</text>
<text x="486.1" y="478.5" font-size="10.6" text-anchor="start" fill="#111" font-weight="bold" >Days post infection</text>
<text transform="translate(404.8,389.4) rotate(-90)" font-size="10.3" text-anchor="middle" fill="#111" font-weight="bold">Probability of Survival</text>
<polyline points="481.7,334.55 481.7,393.27 493.8,393.27 493.8,452" fill="none" stroke="#8a8a8a" stroke-width="1.9" stroke-linejoin="round" stroke-linejoin="miter" stroke-linecap="butt"/>
<circle cx="481.7" cy="393.27" r="3" fill="#8a8a8a" />
<circle cx="493.8" cy="452" r="3" fill="#8a8a8a" />
<polyline points="493.8,334.55 493.8,393.27 505.9,393.27 505.9,412.89 519.21,412.89 519.21,409.9 602.7,409.9" fill="none" stroke="#9f7cc4" stroke-width="1.9" stroke-linejoin="round" stroke-linejoin="miter" stroke-linecap="butt"/>
<circle cx="493.8" cy="393.27" r="3" fill="#9f7cc4" />
<circle cx="505.9" cy="412.89" r="3" fill="#9f7cc4" />
<polyline points="469.6,334.55 469.6,373.66 481.7,373.66 481.7,412.89 505.9,412.89 505.9,432.39 518,432.39 518,452" fill="none" stroke="#8eaad2" stroke-width="1.9" stroke-linejoin="round" stroke-linejoin="miter" stroke-linecap="butt"/>
<circle cx="469.6" cy="373.66" r="3" fill="#8eaad2" />
<circle cx="481.7" cy="412.89" r="3" fill="#8eaad2" />
<circle cx="505.9" cy="432.39" r="3" fill="#8eaad2" />
<circle cx="518" cy="452" r="3" fill="#8eaad2" />
<polyline points="433.3,334.55 493.8,334.55 493.8,373.66 505.9,373.66 505.9,393.27 518,393.27 518,412.89 602.7,412.89" fill="none" stroke="#b85d68" stroke-width="1.9" stroke-linejoin="round" stroke-linejoin="miter" stroke-linecap="butt"/>
<circle cx="493.8" cy="373.66" r="3" fill="#b85d68" />
<circle cx="505.9" cy="393.27" r="3" fill="#b85d68" />
<circle cx="518" cy="412.89" r="3" fill="#b85d68" />
<circle cx="602.7" cy="412.89" r="3" fill="#b85d68" />
<circle cx="602.7" cy="409.7" r="3" fill="#9f7cc4" />
<text x="606.6" y="405.4" font-size="9.3" text-anchor="start" fill="#111" font-weight="bold" >p=0.0178</text>
<text x="606.6" y="419.4" font-size="9.3" text-anchor="start" fill="#111" font-weight="bold" >p=0.0088</text>
<line x1="513.6" y1="335.2" x2="527.1" y2="335.2" stroke="#8a8a8a" stroke-width="1.9" />
<circle cx="520.3" cy="335.2" r="3" fill="#8a8a8a" />
<text x="532.2" y="338.8" font-size="10.6" text-anchor="start" fill="#111" font-weight="bold" >LNP Immue Sera</text>
<line x1="513.6" y1="346.67" x2="527.1" y2="346.67" stroke="#b85d68" stroke-width="1.9" />
<circle cx="520.3" cy="346.67" r="3" fill="#b85d68" />
<text x="532.2" y="350.27" font-size="10.6" text-anchor="start" fill="#111" font-weight="bold" >NP Immue Sera</text>
<line x1="513.6" y1="358.14" x2="527.1" y2="358.14" stroke="#8eaad2" stroke-width="1.9" />
<circle cx="520.3" cy="358.14" r="3" fill="#8eaad2" />
<text x="532.2" y="361.74" font-size="10.6" text-anchor="start" fill="#111" font-weight="bold" >GPC Immue Sera</text>
<line x1="513.6" y1="369.61" x2="527.1" y2="369.61" stroke="#9f7cc4" stroke-width="1.9" />
<circle cx="520.3" cy="369.61" r="3" fill="#9f7cc4" />
<text x="532.2" y="373.21" font-size="10.6" text-anchor="start" fill="#111" font-weight="bold" >NP+GPC Immue Sera</text>
<text x="0.8" y="508.7" font-size="10.0" text-anchor="start" fill="#111" font-weight="bold" >G</text>
<line x1="38.9" y1="513" x2="38.9" y2="659.7" stroke="#1a1a1a" stroke-width="1.4" />
<line x1="34" y1="513" x2="38.9" y2="513" stroke="#1a1a1a" stroke-width="1.4" />
<text x="32.8" y="516.65" font-size="10.3" text-anchor="end" fill="#111" font-weight="bold" >120</text>
<line x1="34" y1="542.2" x2="38.9" y2="542.2" stroke="#1a1a1a" stroke-width="1.4" />
<text x="32.8" y="545.85" font-size="10.3" text-anchor="end" fill="#111" font-weight="bold" >110</text>
<line x1="34" y1="571.4" x2="38.9" y2="571.4" stroke="#1a1a1a" stroke-width="1.4" />
<text x="32.8" y="575.05" font-size="10.3" text-anchor="end" fill="#111" font-weight="bold" >100</text>
<line x1="34" y1="600.6" x2="38.9" y2="600.6" stroke="#1a1a1a" stroke-width="1.4" />
<text x="32.8" y="604.25" font-size="10.3" text-anchor="end" fill="#111" font-weight="bold" >90</text>
<line x1="34" y1="629.8" x2="38.9" y2="629.8" stroke="#1a1a1a" stroke-width="1.4" />
<text x="32.8" y="633.45" font-size="10.3" text-anchor="end" fill="#111" font-weight="bold" >80</text>
<line x1="34" y1="659" x2="38.9" y2="659" stroke="#1a1a1a" stroke-width="1.4" />
<text x="32.8" y="662.65" font-size="10.3" text-anchor="end" fill="#111" font-weight="bold" >70</text>
<line x1="38.2" y1="659" x2="215.92" y2="659" stroke="#1a1a1a" stroke-width="1.4" />
<line x1="38.9" y1="659" x2="38.9" y2="663.4" stroke="#1a1a1a" stroke-width="1.4" />
<text x="38.9" y="674.3" font-size="10.3" text-anchor="middle" fill="#111" font-weight="bold" >0</text>
<line x1="60.94" y1="659" x2="60.94" y2="663.4" stroke="#1a1a1a" stroke-width="1.4" />
<text x="60.94" y="674.3" font-size="10.3" text-anchor="middle" fill="#111" font-weight="bold" >2</text>
<line x1="82.98" y1="659" x2="82.98" y2="663.4" stroke="#1a1a1a" stroke-width="1.4" />
<text x="82.98" y="674.3" font-size="10.3" text-anchor="middle" fill="#111" font-weight="bold" >4</text>
<line x1="105.02" y1="659" x2="105.02" y2="663.4" stroke="#1a1a1a" stroke-width="1.4" />
<text x="105.02" y="674.3" font-size="10.3" text-anchor="middle" fill="#111" font-weight="bold" >6</text>
<line x1="127.06" y1="659" x2="127.06" y2="663.4" stroke="#1a1a1a" stroke-width="1.4" />
<text x="127.06" y="674.3" font-size="10.3" text-anchor="middle" fill="#111" font-weight="bold" >8</text>
<line x1="149.1" y1="659" x2="149.1" y2="663.4" stroke="#1a1a1a" stroke-width="1.4" />
<text x="149.1" y="674.3" font-size="10.3" text-anchor="middle" fill="#111" font-weight="bold" >10</text>
<line x1="171.14" y1="659" x2="171.14" y2="663.4" stroke="#1a1a1a" stroke-width="1.4" />
<text x="171.14" y="674.3" font-size="10.3" text-anchor="middle" fill="#111" font-weight="bold" >12</text>
<line x1="193.18" y1="659" x2="193.18" y2="663.4" stroke="#1a1a1a" stroke-width="1.4" />
<text x="193.18" y="674.3" font-size="10.3" text-anchor="middle" fill="#111" font-weight="bold" >14</text>
<line x1="215.22" y1="659" x2="215.22" y2="663.4" stroke="#1a1a1a" stroke-width="1.4" />
<text x="215.22" y="674.3" font-size="10.3" text-anchor="middle" fill="#111" font-weight="bold" >16</text>
<text x="83.6" y="687.7" font-size="10.6" text-anchor="start" fill="#111" font-weight="bold" >Days post infection</text>
<text transform="translate(12,584) rotate(-90)" font-size="10.8" text-anchor="middle" fill="#111" font-weight="bold">Weight Change (%)</text>
<line x1="39.6" y1="630" x2="213.1" y2="630" stroke="#111" stroke-width="1.3" stroke-dasharray="4.4 2.9"/>
<polyline points="38.9,571.8 49.92,567.8 60.94,595.2 71.96,618.2 82.98,623.6 94,621.6 105.02,620.4 116.04,642" fill="none" stroke="#8eaad2" stroke-width="1.9" stroke-linejoin="round" />
<circle cx="38.9" cy="571.8" r="2.3" fill="#8eaad2" />
<circle cx="49.92" cy="567.8" r="2.3" fill="#8eaad2" />
<circle cx="60.94" cy="595.2" r="2.3" fill="#8eaad2" />
<circle cx="71.96" cy="618.2" r="2.3" fill="#8eaad2" />
<circle cx="82.98" cy="623.6" r="2.3" fill="#8eaad2" />
<circle cx="94" cy="621.6" r="2.3" fill="#8eaad2" />
<circle cx="105.02" cy="620.4" r="2.3" fill="#8eaad2" />
<circle cx="116.04" cy="642" r="2.3" fill="#8eaad2" />
<polyline points="38.9,571.8 49.92,575 60.94,579.2 71.96,594.5 82.98,609.9 94,607.1 105.02,592.2 116.04,580.2 127.06,575 138.08,572.3 149.1,569.1 160.12,574.1 171.14,581.1 182.16,576.6 193.18,570.4" fill="none" stroke="#9f7cc4" stroke-width="1.9" stroke-linejoin="round" />
<circle cx="38.9" cy="571.8" r="2.3" fill="#9f7cc4" />
<circle cx="49.92" cy="575" r="2.3" fill="#9f7cc4" />
<circle cx="60.94" cy="579.2" r="2.3" fill="#9f7cc4" />
<circle cx="71.96" cy="594.5" r="2.3" fill="#9f7cc4" />
<circle cx="82.98" cy="609.9" r="2.3" fill="#9f7cc4" />
<circle cx="94" cy="607.1" r="2.3" fill="#9f7cc4" />
<circle cx="105.02" cy="592.2" r="2.3" fill="#9f7cc4" />
<circle cx="116.04" cy="580.2" r="2.3" fill="#9f7cc4" />
<circle cx="127.06" cy="575" r="2.3" fill="#9f7cc4" />
<circle cx="138.08" cy="572.3" r="2.3" fill="#9f7cc4" />
<circle cx="149.1" cy="569.1" r="2.3" fill="#9f7cc4" />
<circle cx="160.12" cy="574.1" r="2.3" fill="#9f7cc4" />
<circle cx="171.14" cy="581.1" r="2.3" fill="#9f7cc4" />
<circle cx="182.16" cy="576.6" r="2.3" fill="#9f7cc4" />
<circle cx="193.18" cy="570.4" r="2.3" fill="#9f7cc4" />
<polyline points="38.9,571.8 49.92,568.8 60.94,573.7 71.96,591.3 82.98,601.8 94,605.6 105.02,605 116.04,582.8 127.06,560 138.08,548.9 149.1,534.6 160.12,536.4 171.14,546.6 182.16,543.4 193.18,541.4" fill="none" stroke="#b85d68" stroke-width="1.9" stroke-linejoin="round" />
<circle cx="38.9" cy="571.8" r="2.3" fill="#b85d68" />
<circle cx="49.92" cy="568.8" r="2.3" fill="#b85d68" />
<circle cx="60.94" cy="573.7" r="2.3" fill="#b85d68" />
<circle cx="71.96" cy="591.3" r="2.3" fill="#b85d68" />
<circle cx="82.98" cy="601.8" r="2.3" fill="#b85d68" />
<circle cx="94" cy="605.6" r="2.3" fill="#b85d68" />
<circle cx="105.02" cy="605" r="2.3" fill="#b85d68" />
<circle cx="116.04" cy="582.8" r="2.3" fill="#b85d68" />
<circle cx="127.06" cy="560" r="2.3" fill="#b85d68" />
<circle cx="138.08" cy="548.9" r="2.3" fill="#b85d68" />
<circle cx="149.1" cy="534.6" r="2.3" fill="#b85d68" />
<circle cx="160.12" cy="536.4" r="2.3" fill="#b85d68" />
<circle cx="171.14" cy="546.6" r="2.3" fill="#b85d68" />
<circle cx="182.16" cy="543.4" r="2.3" fill="#b85d68" />
<circle cx="193.18" cy="541.4" r="2.3" fill="#b85d68" />
<polyline points="38.9,571.8 49.92,571.6 60.94,582.4 71.96,614.7 82.98,618.9 94,630.3" fill="none" stroke="#8a8a8a" stroke-width="1.9" stroke-linejoin="round" />
<circle cx="38.9" cy="571.8" r="2.3" fill="#8a8a8a" />
<circle cx="49.92" cy="571.6" r="2.3" fill="#8a8a8a" />
<circle cx="60.94" cy="582.4" r="2.3" fill="#8a8a8a" />
<circle cx="71.96" cy="614.7" r="2.3" fill="#8a8a8a" />
<circle cx="82.98" cy="618.9" r="2.3" fill="#8a8a8a" />
<circle cx="94" cy="630.3" r="2.3" fill="#8a8a8a" />
<text x="219.3" y="508.7" font-size="10.0" text-anchor="start" fill="#111" font-weight="bold" >H</text>
<rect x="267.7" y="572.4" width="18.4" height="99.6" fill="#b5b7b5" />
<rect x="290.1" y="577.2" width="18.8" height="94.8" fill="#b2656f" />
<rect x="312.8" y="570.2" width="18.5" height="101.8" fill="#8ca6ca" />
<rect x="335.1" y="559.8" width="18.9" height="112.2" fill="#9e7bb8" />
<line x1="258.6" y1="645.7" x2="362.7" y2="645.7" stroke="#111" stroke-width="1.5" stroke-dasharray="4.3 2.9"/>
<circle cx="270.2" cy="570.7" r="2.35" fill="#0a0a0a" />
<circle cx="275.4" cy="572.1" r="2.35" fill="#0a0a0a" />
<circle cx="279.8" cy="569.8" r="2.35" fill="#0a0a0a" />
<circle cx="284.2" cy="568.6" r="2.35" fill="#0a0a0a" />
<circle cx="276.3" cy="580.8" r="2.35" fill="#0a0a0a" />
<circle cx="276.7" cy="587" r="2.35" fill="#0a0a0a" />
<line x1="299.5" y1="575" x2="299.5" y2="579.5" stroke="#111" stroke-width="1.1" />
<line x1="295.2" y1="575" x2="303.8" y2="575" stroke="#111" stroke-width="1.1" />
<line x1="295.2" y1="579.5" x2="303.8" y2="579.5" stroke="#111" stroke-width="1.1" />
<circle cx="300" cy="570.7" r="2.35" fill="#0a0a0a" />
<circle cx="293" cy="577.3" r="2.35" fill="#0a0a0a" />
<circle cx="300" cy="579.4" r="2.35" fill="#0a0a0a" />
<circle cx="306.1" cy="578.2" r="2.35" fill="#0a0a0a" />
<circle cx="293" cy="585.7" r="2.35" fill="#0a0a0a" />
<circle cx="306.1" cy="583.5" r="2.35" fill="#0a0a0a" />
<line x1="322.05" y1="567.7" x2="322.05" y2="572.5" stroke="#111" stroke-width="1.1" />
<line x1="317.75" y1="567.7" x2="326.35" y2="567.7" stroke="#111" stroke-width="1.1" />
<line x1="317.75" y1="572.5" x2="326.35" y2="572.5" stroke="#111" stroke-width="1.1" />
<circle cx="322.2" cy="563" r="2.35" fill="#0a0a0a" />
<circle cx="315.2" cy="573.8" r="2.35" fill="#0a0a0a" />
<circle cx="320.1" cy="574.7" r="2.35" fill="#0a0a0a" />
<circle cx="324.5" cy="574.7" r="2.35" fill="#0a0a0a" />
<circle cx="328.9" cy="573.8" r="2.35" fill="#0a0a0a" />
<circle cx="315.2" cy="577.7" r="2.35" fill="#0a0a0a" />
<line x1="344.55" y1="556.1" x2="344.55" y2="571.8" stroke="#111" stroke-width="1.1" />
<line x1="340.25" y1="556.1" x2="348.85" y2="556.1" stroke="#111" stroke-width="1.1" />
<line x1="340.25" y1="571.8" x2="348.85" y2="571.8" stroke="#111" stroke-width="1.1" />
<circle cx="344.3" cy="550.2" r="2.35" fill="#0a0a0a" />
<circle cx="337" cy="571.5" r="2.35" fill="#0a0a0a" />
<circle cx="344.3" cy="571.9" r="2.35" fill="#0a0a0a" />
<circle cx="351" cy="571.2" r="2.35" fill="#0a0a0a" />
<circle cx="337" cy="576.3" r="2.35" fill="#0a0a0a" />
<circle cx="351" cy="576.3" r="2.35" fill="#0a0a0a" />
<line x1="258" y1="515.04" x2="258" y2="672.7" stroke="#1a1a1a" stroke-width="1.4" />
<line x1="252.6" y1="515.04" x2="258" y2="515.04" stroke="#1a1a1a" stroke-width="1.4" />
<text x="250.6" y="518.79" font-size="10.6" text-anchor="end" fill="#111" font-weight="bold" >12</text>
<line x1="252.6" y1="528.12" x2="258" y2="528.12" stroke="#1a1a1a" stroke-width="1.4" />
<text x="250.6" y="531.87" font-size="10.6" text-anchor="end" fill="#111" font-weight="bold" >11</text>
<line x1="252.6" y1="541.2" x2="258" y2="541.2" stroke="#1a1a1a" stroke-width="1.4" />
<text x="250.6" y="544.95" font-size="10.6" text-anchor="end" fill="#111" font-weight="bold" >10</text>
<line x1="252.6" y1="554.28" x2="258" y2="554.28" stroke="#1a1a1a" stroke-width="1.4" />
<text x="250.6" y="558.03" font-size="10.6" text-anchor="end" fill="#111" font-weight="bold" >9</text>
<line x1="252.6" y1="567.36" x2="258" y2="567.36" stroke="#1a1a1a" stroke-width="1.4" />
<text x="250.6" y="571.11" font-size="10.6" text-anchor="end" fill="#111" font-weight="bold" >8</text>
<line x1="252.6" y1="580.44" x2="258" y2="580.44" stroke="#1a1a1a" stroke-width="1.4" />
<text x="250.6" y="584.19" font-size="10.6" text-anchor="end" fill="#111" font-weight="bold" >7</text>
<line x1="252.6" y1="593.52" x2="258" y2="593.52" stroke="#1a1a1a" stroke-width="1.4" />
<text x="250.6" y="597.27" font-size="10.6" text-anchor="end" fill="#111" font-weight="bold" >6</text>
<line x1="252.6" y1="606.6" x2="258" y2="606.6" stroke="#1a1a1a" stroke-width="1.4" />
<text x="250.6" y="610.35" font-size="10.6" text-anchor="end" fill="#111" font-weight="bold" >5</text>
<line x1="252.6" y1="619.68" x2="258" y2="619.68" stroke="#1a1a1a" stroke-width="1.4" />
<text x="250.6" y="623.43" font-size="10.6" text-anchor="end" fill="#111" font-weight="bold" >4</text>
<line x1="252.6" y1="632.76" x2="258" y2="632.76" stroke="#1a1a1a" stroke-width="1.4" />
<text x="250.6" y="636.51" font-size="10.6" text-anchor="end" fill="#111" font-weight="bold" >3</text>
<line x1="252.6" y1="645.84" x2="258" y2="645.84" stroke="#1a1a1a" stroke-width="1.4" />
<text x="250.6" y="649.59" font-size="10.6" text-anchor="end" fill="#111" font-weight="bold" >2</text>
<line x1="252.6" y1="658.92" x2="258" y2="658.92" stroke="#1a1a1a" stroke-width="1.4" />
<text x="250.6" y="662.67" font-size="10.6" text-anchor="end" fill="#111" font-weight="bold" >1</text>
<line x1="252.6" y1="672" x2="258" y2="672" stroke="#1a1a1a" stroke-width="1.4" />
<text x="250.6" y="675.75" font-size="10.6" text-anchor="end" fill="#111" font-weight="bold" >0</text>
<line x1="257.2" y1="672" x2="363.5" y2="672" stroke="#1a1a1a" stroke-width="1.4" />
<text x="364.3" y="649.8" font-size="10.5" text-anchor="start" fill="#111" font-weight="bold" >LOD</text>
<text x="294.7" y="688.5" font-size="10.5" text-anchor="start" fill="#111" font-weight="bold" >Blood</text>
<text transform="translate(236.1,590.65) rotate(-90)" font-size="10.65" text-anchor="middle" fill="#111" font-weight="bold">Viral load&#160; (Log10 copies/mL)</text>
<rect x="262" y="508.9" width="8.1" height="5.1" fill="#b5b7b5" />
<text x="273.3" y="513.8" font-size="10.7" text-anchor="start" fill="#111" font-weight="bold" >LNP Immue Sera</text>
<rect x="262" y="519" width="8.1" height="5.1" fill="#b2656f" />
<text x="273.3" y="523.9" font-size="10.7" text-anchor="start" fill="#111" font-weight="bold" >NP Immue Sera</text>
<rect x="262" y="529.1" width="8.1" height="5.1" fill="#8ca6ca" />
<text x="273.3" y="534" font-size="10.7" text-anchor="start" fill="#111" font-weight="bold" >GPC Immue Sera</text>
<rect x="262" y="540.4" width="8.1" height="5.1" fill="#9e7bb8" />
<text x="273.3" y="545.3" font-size="10.7" text-anchor="start" fill="#111" font-weight="bold" >NP+GPC Immue Sera</text>
<text x="391.3" y="508.7" font-size="10.0" text-anchor="start" fill="#111" font-weight="bold" >I</text>
<rect x="438.2" y="556.8" width="21" height="118.5" fill="#b5b7b5" />
<rect x="463.6" y="569.5" width="21" height="105.8" fill="#b2656f" />
<rect x="489" y="554.2" width="21" height="121.1" fill="#8ca6ca" />
<rect x="513.9" y="562.6" width="21" height="112.7" fill="#9e7bb8" />
<rect x="555.9" y="567.3" width="21" height="108" fill="#b5b7b5" />
<rect x="581.2" y="581.3" width="20.7" height="94" fill="#b2656f" />
<rect x="606.1" y="580.2" width="21.1" height="95.1" fill="#8ca6ca" />
<rect x="631.6" y="584.8" width="21" height="90.5" fill="#9e7bb8" />
<line x1="427.9" y1="648.8" x2="659.5" y2="648.8" stroke="#111" stroke-width="1.5" stroke-dasharray="4.3 2.9"/>
<line x1="448.7" y1="553.3" x2="448.7" y2="568.2" stroke="#111" stroke-width="1.1" />
<line x1="444.4" y1="553.3" x2="453" y2="553.3" stroke="#111" stroke-width="1.1" />
<line x1="444.4" y1="568.2" x2="453" y2="568.2" stroke="#111" stroke-width="1.1" />
<circle cx="449" cy="548.4" r="2.35" fill="#0a0a0a" />
<circle cx="443.8" cy="566.5" r="2.35" fill="#0a0a0a" />
<circle cx="453.4" cy="563" r="2.35" fill="#0a0a0a" />
<circle cx="449" cy="572.6" r="2.35" fill="#0a0a0a" />
<circle cx="449" cy="590.5" r="2.35" fill="#0a0a0a" />
<line x1="474.1" y1="566.5" x2="474.1" y2="572" stroke="#111" stroke-width="1.1" />
<line x1="469.8" y1="566.5" x2="478.4" y2="566.5" stroke="#111" stroke-width="1.1" />
<line x1="469.8" y1="572" x2="478.4" y2="572" stroke="#111" stroke-width="1.1" />
<circle cx="465.7" cy="567.7" r="2.35" fill="#0a0a0a" />
<circle cx="470.9" cy="570.3" r="2.35" fill="#0a0a0a" />
<circle cx="476.4" cy="564.7" r="2.35" fill="#0a0a0a" />
<circle cx="465.7" cy="573.3" r="2.35" fill="#0a0a0a" />
<circle cx="476.4" cy="573" r="2.35" fill="#0a0a0a" />
<circle cx="481.6" cy="571.6" r="2.35" fill="#0a0a0a" />
<line x1="499.5" y1="550.7" x2="499.5" y2="563" stroke="#111" stroke-width="1.1" />
<line x1="495.2" y1="550.7" x2="503.8" y2="550.7" stroke="#111" stroke-width="1.1" />
<line x1="495.2" y1="563" x2="503.8" y2="563" stroke="#111" stroke-width="1.1" />
<circle cx="499.1" cy="544.9" r="2.35" fill="#0a0a0a" />
<circle cx="491.3" cy="562.4" r="2.35" fill="#0a0a0a" />
<circle cx="499.1" cy="563.3" r="2.35" fill="#0a0a0a" />
<circle cx="507" cy="562.4" r="2.35" fill="#0a0a0a" />
<circle cx="491.3" cy="567.2" r="2.35" fill="#0a0a0a" />
<circle cx="507" cy="566.8" r="2.35" fill="#0a0a0a" />
<line x1="524.4" y1="561" x2="524.4" y2="564" stroke="#111" stroke-width="1.1" />
<line x1="520.1" y1="561" x2="528.7" y2="561" stroke="#111" stroke-width="1.1" />
<line x1="520.1" y1="564" x2="528.7" y2="564" stroke="#111" stroke-width="1.1" />
<circle cx="516.2" cy="562.7" r="2.35" fill="#0a0a0a" />
<circle cx="524.4" cy="560.6" r="2.35" fill="#0a0a0a" />
<circle cx="532.6" cy="558" r="2.35" fill="#0a0a0a" />
<circle cx="524.4" cy="570.8" r="2.35" fill="#0a0a0a" />
<circle cx="532.6" cy="564.5" r="2.35" fill="#0a0a0a" />
<circle cx="524.4" cy="565.7" r="2.35" fill="#0a0a0a" />
<line x1="566.4" y1="563.8" x2="566.4" y2="578.5" stroke="#111" stroke-width="1.1" />
<line x1="562.1" y1="563.8" x2="570.7" y2="563.8" stroke="#111" stroke-width="1.1" />
<line x1="562.1" y1="578.5" x2="570.7" y2="578.5" stroke="#111" stroke-width="1.1" />
<circle cx="566.4" cy="558.7" r="2.35" fill="#0a0a0a" />
<circle cx="558.3" cy="576.9" r="2.35" fill="#0a0a0a" />
<circle cx="566.4" cy="577.4" r="2.35" fill="#0a0a0a" />
<circle cx="574.4" cy="576.9" r="2.35" fill="#0a0a0a" />
<circle cx="566.4" cy="592.6" r="2.35" fill="#0a0a0a" />
<line x1="591.55" y1="578.1" x2="591.55" y2="587.4" stroke="#111" stroke-width="1.1" />
<line x1="587.25" y1="578.1" x2="595.85" y2="578.1" stroke="#111" stroke-width="1.1" />
<line x1="587.25" y1="587.4" x2="595.85" y2="587.4" stroke="#111" stroke-width="1.1" />
<circle cx="591.4" cy="573.2" r="2.35" fill="#0a0a0a" />
<circle cx="591.4" cy="586.7" r="2.35" fill="#0a0a0a" />
<circle cx="591.4" cy="595.4" r="2.35" fill="#0a0a0a" />
<circle cx="591.4" cy="615.2" r="2.35" fill="#0a0a0a" />
<circle cx="591.4" cy="623.4" r="2.35" fill="#0a0a0a" />
<circle cx="591.4" cy="580" r="2.35" fill="#0a0a0a" />
<line x1="616.65" y1="576.9" x2="616.65" y2="586" stroke="#111" stroke-width="1.1" />
<line x1="612.35" y1="576.9" x2="620.95" y2="576.9" stroke="#111" stroke-width="1.1" />
<line x1="612.35" y1="586" x2="620.95" y2="586" stroke="#111" stroke-width="1.1" />
<circle cx="616.7" cy="571.5" r="2.35" fill="#0a0a0a" />
<circle cx="612" cy="579.7" r="2.35" fill="#0a0a0a" />
<circle cx="621.3" cy="581.3" r="2.35" fill="#0a0a0a" />
<circle cx="616.7" cy="614.3" r="2.35" fill="#0a0a0a" />
<circle cx="612" cy="630.6" r="2.35" fill="#0a0a0a" />
<circle cx="621.3" cy="626.9" r="2.35" fill="#0a0a0a" />
<line x1="642.1" y1="582.5" x2="642.1" y2="590.2" stroke="#111" stroke-width="1.1" />
<line x1="637.8" y1="582.5" x2="646.4" y2="582.5" stroke="#111" stroke-width="1.1" />
<line x1="637.8" y1="590.2" x2="646.4" y2="590.2" stroke="#111" stroke-width="1.1" />
<circle cx="637.4" cy="579.2" r="2.35" fill="#0a0a0a" />
<circle cx="646.8" cy="578.1" r="2.35" fill="#0a0a0a" />
<circle cx="637.4" cy="601.4" r="2.35" fill="#0a0a0a" />
<circle cx="646.8" cy="598.4" r="2.35" fill="#0a0a0a" />
<circle cx="642.1" cy="608.9" r="2.35" fill="#0a0a0a" />
<circle cx="642.1" cy="617.6" r="2.35" fill="#0a0a0a" />
<line x1="427.2" y1="517.74" x2="427.2" y2="676" stroke="#1a1a1a" stroke-width="1.4" />
<line x1="421.5" y1="517.74" x2="427.2" y2="517.74" stroke="#1a1a1a" stroke-width="1.4" />
<text x="419.8" y="521.49" font-size="10.6" text-anchor="end" fill="#111" font-weight="bold" >12</text>
<line x1="421.5" y1="530.87" x2="427.2" y2="530.87" stroke="#1a1a1a" stroke-width="1.4" />
<text x="419.8" y="534.62" font-size="10.6" text-anchor="end" fill="#111" font-weight="bold" >11</text>
<line x1="421.5" y1="544" x2="427.2" y2="544" stroke="#1a1a1a" stroke-width="1.4" />
<text x="419.8" y="547.75" font-size="10.6" text-anchor="end" fill="#111" font-weight="bold" >10</text>
<line x1="421.5" y1="557.13" x2="427.2" y2="557.13" stroke="#1a1a1a" stroke-width="1.4" />
<text x="419.8" y="560.88" font-size="10.6" text-anchor="end" fill="#111" font-weight="bold" >9</text>
<line x1="421.5" y1="570.26" x2="427.2" y2="570.26" stroke="#1a1a1a" stroke-width="1.4" />
<text x="419.8" y="574.01" font-size="10.6" text-anchor="end" fill="#111" font-weight="bold" >8</text>
<line x1="421.5" y1="583.39" x2="427.2" y2="583.39" stroke="#1a1a1a" stroke-width="1.4" />
<text x="419.8" y="587.14" font-size="10.6" text-anchor="end" fill="#111" font-weight="bold" >7</text>
<line x1="421.5" y1="596.52" x2="427.2" y2="596.52" stroke="#1a1a1a" stroke-width="1.4" />
<text x="419.8" y="600.27" font-size="10.6" text-anchor="end" fill="#111" font-weight="bold" >6</text>
<line x1="421.5" y1="609.65" x2="427.2" y2="609.65" stroke="#1a1a1a" stroke-width="1.4" />
<text x="419.8" y="613.4" font-size="10.6" text-anchor="end" fill="#111" font-weight="bold" >5</text>
<line x1="421.5" y1="622.78" x2="427.2" y2="622.78" stroke="#1a1a1a" stroke-width="1.4" />
<text x="419.8" y="626.53" font-size="10.6" text-anchor="end" fill="#111" font-weight="bold" >4</text>
<line x1="421.5" y1="635.91" x2="427.2" y2="635.91" stroke="#1a1a1a" stroke-width="1.4" />
<text x="419.8" y="639.66" font-size="10.6" text-anchor="end" fill="#111" font-weight="bold" >3</text>
<line x1="421.5" y1="649.04" x2="427.2" y2="649.04" stroke="#1a1a1a" stroke-width="1.4" />
<text x="419.8" y="652.79" font-size="10.6" text-anchor="end" fill="#111" font-weight="bold" >2</text>
<line x1="421.5" y1="662.17" x2="427.2" y2="662.17" stroke="#1a1a1a" stroke-width="1.4" />
<text x="419.8" y="665.92" font-size="10.6" text-anchor="end" fill="#111" font-weight="bold" >1</text>
<line x1="421.5" y1="675.3" x2="427.2" y2="675.3" stroke="#1a1a1a" stroke-width="1.4" />
<text x="419.8" y="679.05" font-size="10.6" text-anchor="end" fill="#111" font-weight="bold" >0</text>
<line x1="426.5" y1="675.3" x2="664.3" y2="675.3" stroke="#1a1a1a" stroke-width="1.4" />
<line x1="486.4" y1="675.3" x2="486.4" y2="680.1" stroke="#1a1a1a" stroke-width="1.4" />
<line x1="603.6" y1="675.3" x2="603.6" y2="680.1" stroke="#1a1a1a" stroke-width="1.4" />
<text x="661" y="652.9" font-size="10.5" text-anchor="start" fill="#111" font-weight="bold" >LOD</text>
<text x="475.8" y="691.2" font-size="10.5" text-anchor="start" fill="#111" font-weight="bold" >Liver</text>
<text x="587.8" y="691.2" font-size="10.5" text-anchor="start" fill="#111" font-weight="bold" >Spleen</text>
<text transform="translate(406.3,591.15) rotate(-90)" font-size="11.1" text-anchor="middle" fill="#111" font-weight="bold">Viral load (log 10 copies/g)</text>
<rect x="439.1" y="508.8" width="8" height="5" fill="#b5b7b5" />
<text x="450.6" y="513.8" font-size="10.7" text-anchor="start" fill="#111" font-weight="bold" >LNP Immue Sera</text>
<rect x="439.1" y="519.1" width="8" height="5" fill="#b2656f" />
<text x="450.6" y="524.1" font-size="10.7" text-anchor="start" fill="#111" font-weight="bold" >NP Immue Sera</text>
<rect x="554.3" y="508.8" width="8.3" height="5" fill="#8ca6ca" />
<text x="565.4" y="513.8" font-size="10.7" text-anchor="start" fill="#111" font-weight="bold" >GPC Immue Sera</text>
<rect x="554.3" y="519.1" width="8.3" height="5" fill="#9e7bb8" />
<text x="565.4" y="524.1" font-size="10.7" text-anchor="start" fill="#111" font-weight="bold" >NP+GPC Immue Sera</text>
</svg>
</body></html>
